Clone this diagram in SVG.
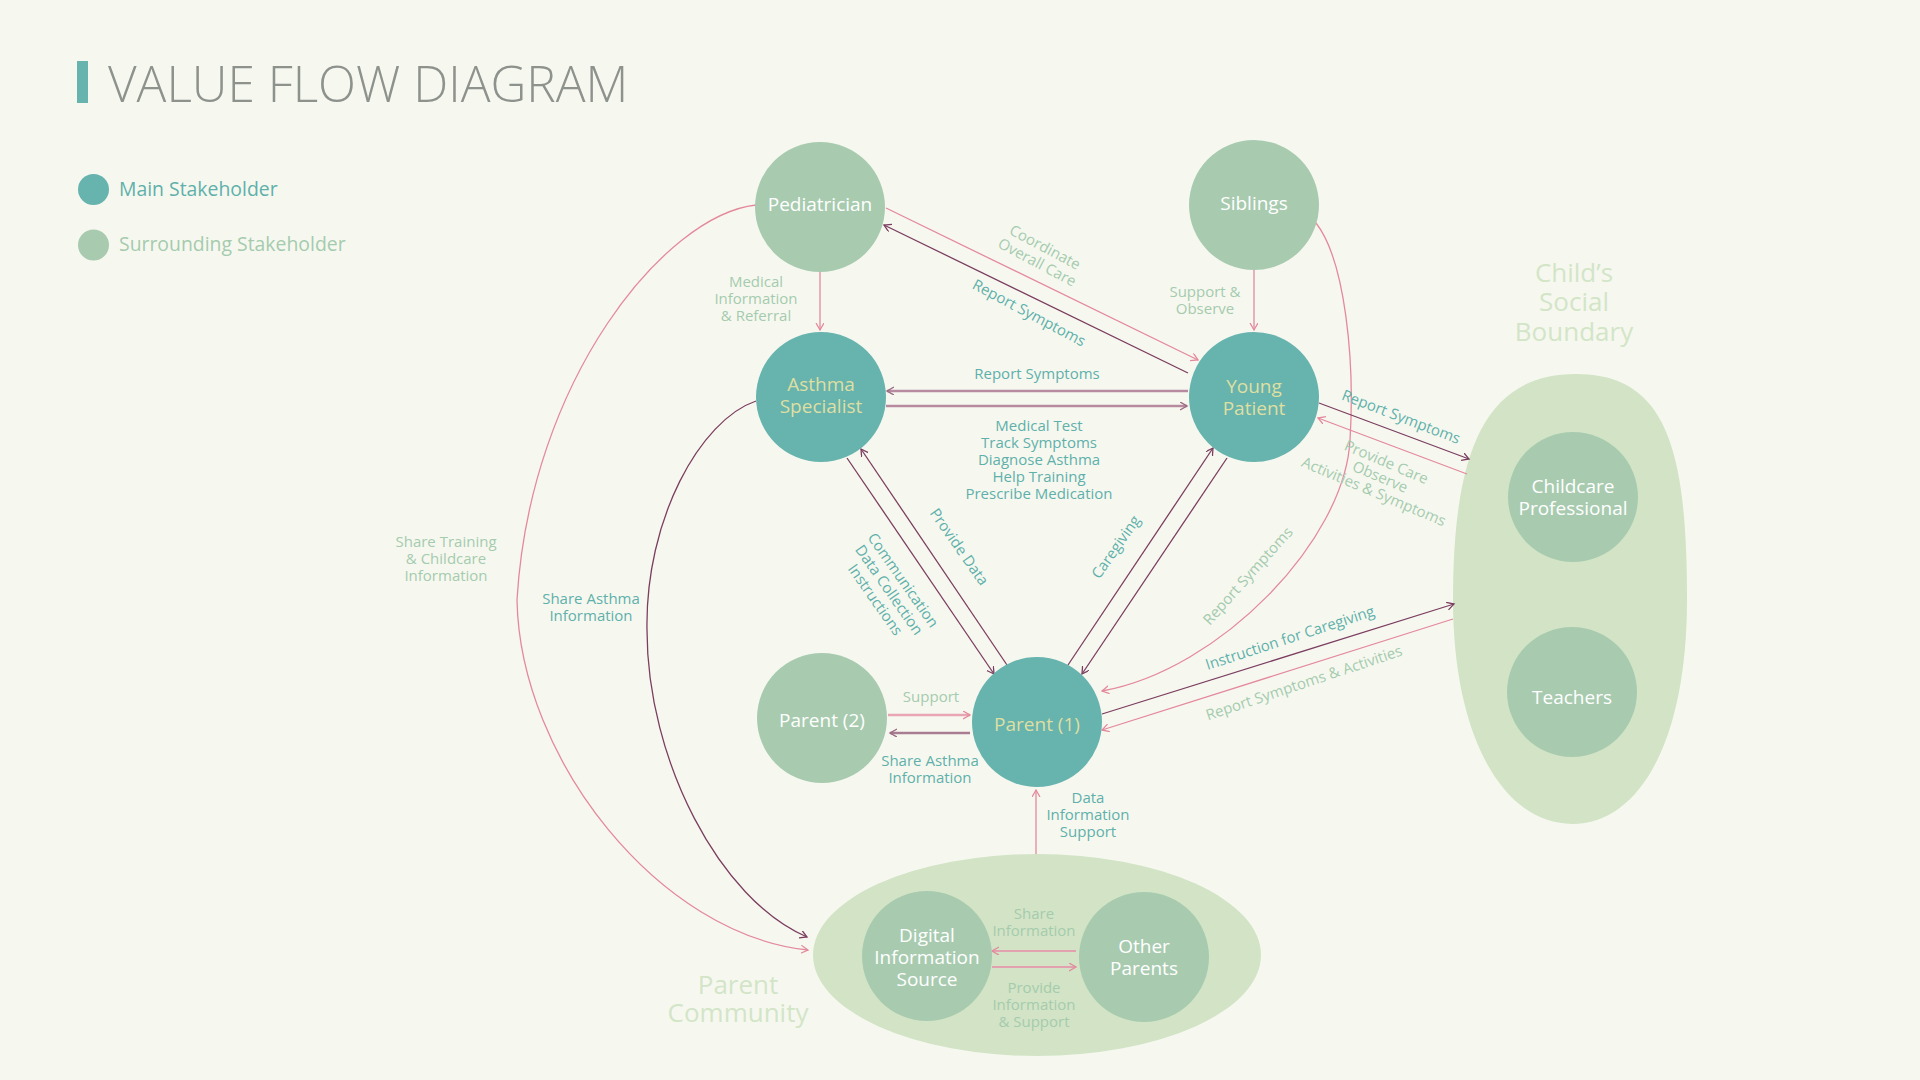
<svg xmlns="http://www.w3.org/2000/svg" width="1920" height="1080" viewBox="0 0 1920 1080">
<style>
text{font-family:"Open Sans","Noto Sans","Liberation Sans",sans-serif;}
.title{font-size:49.6px;font-weight:300;fill:#8e928c;}
.leg{font-size:19.4px;font-weight:500;}
.sec{font-size:26px;font-weight:500;fill:#d3e5c7;text-anchor:middle;}
.nl{font-size:19px;font-weight:500;text-anchor:middle;}
.nw{fill:#ffffff;}
.ny{fill:#dfdfa2;}
.lb{font-size:15px;font-weight:500;text-anchor:middle;}
.lt{fill:#5fb0aa;}
.lg{fill:#a5cbae;}
.main{fill:#67b3ae;}
.sur{fill:#a8cbb0;}
.bnd{fill:#d2e4c5;}
.pk{fill:none;stroke:#e4899c;stroke-width:1.3;marker-end:url(#ap);}
.pl{fill:none;stroke:#7c3e60;stroke-width:1.3;marker-end:url(#al);}
.mv{fill:none;stroke:#b78a9f;stroke-width:2.6;marker-end:url(#am);}
.pk2{fill:none;stroke:#e9a6b2;stroke-width:2.6;marker-end:url(#ap);}
.pk3{fill:none;stroke:#e2a1ae;stroke-width:2;marker-end:url(#ap);}
</style>
<defs>
<marker id="ap" markerUnits="userSpaceOnUse" markerWidth="10" markerHeight="10" refX="7" refY="4" orient="auto"><path d="M0,0 L7,4 L0,8" fill="none" stroke="#e4899c" stroke-width="1.3"/></marker>
<marker id="al" markerUnits="userSpaceOnUse" markerWidth="10" markerHeight="10" refX="7" refY="4" orient="auto"><path d="M0,0 L7,4 L0,8" fill="none" stroke="#7c3e60" stroke-width="1.3"/></marker>
<marker id="am" markerUnits="userSpaceOnUse" markerWidth="10" markerHeight="10" refX="7" refY="4" orient="auto"><path d="M0,0 L7,4 L0,8" fill="none" stroke="#9a6a82" stroke-width="1.4"/></marker>
</defs>
<rect x="0" y="0" width="1920" height="1080" fill="#f6f8f0"/>

<g id="title">
<rect x="77" y="61" width="11" height="42" fill="#67b3ae"/>
<text class="title" x="108" y="102">VALUE FLOW DIAGRAM</text>
</g>
<g id="legend">
<circle cx="93.5" cy="189.5" r="15.5" class="main"/>
<text class="leg" x="119" y="196" fill="#5fb0aa">Main Stakeholder</text>
<circle cx="93.5" cy="245" r="15.5" class="sur"/>
<text class="leg" x="119" y="251" fill="#a5cbae">Surrounding Stakeholder</text>
</g>

<g id="child-social-boundary">
<path class="bnd" d="M1576,374 C1667,374 1687,450 1687,600 C1687,740 1640,824 1572,824 C1505,824 1453,740 1453,600 C1453,450 1485,374 1576,374 Z"/>
<text class="sec"><tspan x="1574" y="282">Child’s</tspan><tspan x="1574" y="311">Social</tspan><tspan x="1574" y="341">Boundary</tspan></text>
</g>
<g id="parent-community">
<ellipse class="bnd" cx="1037" cy="955" rx="224" ry="101"/>
<text class="sec"><tspan x="738" y="994">Parent</tspan><tspan x="738" y="1022">Community</tspan></text>
</g>

<g id="connectors">
<path class="pk" d="M820,272 L820,330"/>
<path class="pk" d="M886,208 L1198,360"/>
<path class="pk" d="M1254,270 L1254,330"/>
<path class="pk" d="M1316,223 C1345,260 1355,360 1350,440 C1345,540 1220,670 1102,691"/>
<path class="pk" d="M1467,474 L1318,418"/>
<path class="pk" d="M1453,619 L1102,730"/>
<path class="pk" d="M756,205 C665,215 530,380 517,600 C520,760 660,935 808,950"/>
<path class="pk" d="M1036,854 L1036,790"/>
<path class="pk3" d="M1076,951 L992,951"/>
<path class="pk3" d="M992,967 L1076,967"/>
<path class="pk2" d="M888,715 L970,715"/>
<path class="pl" d="M1188,373 L884,225"/>
<path class="pl" d="M847,458 L994,674"/>
<path class="pl" d="M1007,665 L861,449"/>
<path class="pl" d="M1068,665 L1213,448"/>
<path class="pl" d="M1227,458 L1082,674"/>
<path class="pl" d="M1319,403 L1469,459"/>
<path class="pl" d="M1102,714 L1454,604"/>
<path class="pl" d="M756,401 C700,420 645,520 647,630 C647,760 720,900 807,937"/>
<path class="mv" d="M1188,391 L887,391"/>
<path class="mv" d="M886,406 L1187,406"/>
<path class="mv" d="M970,733 L890,733" style="stroke:#a97c91"/>

<text class="lb lg"><tspan x="756" y="287">Medical</tspan><tspan x="756" y="304">Information</tspan><tspan x="756" y="321">&amp; Referral</tspan></text>
<text class="lb lg"><tspan x="1205" y="297">Support &amp;</tspan><tspan x="1205" y="314">Observe</tspan></text>
<text class="lb lg" transform="translate(1041,255) rotate(28)"><tspan x="0" y="-3.5">Coordinate</tspan><tspan x="0" y="13.5">Overall Care</tspan></text>
<text class="lb lt" transform="translate(1029,313) rotate(28)" y="5">Report Symptoms</text>
<text class="lb lt" x="1037" y="379">Report Symptoms</text>
<text class="lb lt"><tspan x="1039" y="431">Medical Test</tspan><tspan x="1039" y="448">Track Symptoms</tspan><tspan x="1039" y="465">Diagnose Asthma</tspan><tspan x="1039" y="482">Help Training</tspan><tspan x="1039" y="499">Prescribe Medication</tspan></text>
<text class="lb lt" transform="translate(959,547) rotate(55)" y="5">Provide Data</text>
<text class="lb lt" transform="translate(889,590) rotate(55)"><tspan x="0" y="-12">Communication</tspan><tspan x="0" y="5">Data Collection</tspan><tspan x="0" y="22">Instructions</tspan></text>
<text class="lb lt" transform="translate(1116,547) rotate(-55)" y="5">Caregiving</text>
<text class="lb lt" transform="translate(1401,417) rotate(21)" y="5">Report Symptoms</text>
<text class="lb lg" transform="translate(1380,477) rotate(23)"><tspan x="0" y="-11">Provide Care</tspan><tspan x="0" y="5">Observe</tspan><tspan x="0" y="21">Activities &amp; Symptoms</tspan></text>
<text class="lb lg" transform="translate(1248,576) rotate(-48)" y="5">Report Symptoms</text>
<text class="lb lt" transform="translate(1290,638) rotate(-18)" y="5">Instruction for Caregiving</text>
<text class="lb lg" transform="translate(1304,683) rotate(-18.5)" y="5">Report Symptoms &amp; Activities</text>
<text class="lb lg"><tspan x="446" y="547">Share Training</tspan><tspan x="446" y="564">&amp; Childcare</tspan><tspan x="446" y="581">Information</tspan></text>
<text class="lb lt"><tspan x="591" y="604">Share Asthma</tspan><tspan x="591" y="621">Information</tspan></text>
<text class="lb lg" x="931" y="702">Support</text>
<text class="lb lt"><tspan x="930" y="766">Share Asthma</tspan><tspan x="930" y="783">Information</tspan></text>
<text class="lb lt"><tspan x="1088" y="803">Data</tspan><tspan x="1088" y="820">Information</tspan><tspan x="1088" y="837">Support</tspan></text>
<text class="lb lg"><tspan x="1034" y="919">Share</tspan><tspan x="1034" y="936">Information</tspan></text>
<text class="lb lg"><tspan x="1034" y="993">Provide</tspan><tspan x="1034" y="1010">Information</tspan><tspan x="1034" y="1027">&amp; Support</tspan></text>
</g>

<g id="pediatrician"><circle cx="820" cy="207" r="65" class="sur"/><text class="nl nw" x="820" y="211">Pediatrician</text></g>
<g id="siblings"><circle cx="1254" cy="205" r="65" class="sur"/><text class="nl nw" x="1254" y="210">Siblings</text></g>
<g id="asthma-specialist"><circle cx="821" cy="397" r="65" class="main"/><text class="nl ny"><tspan x="821" y="391">Asthma</tspan><tspan x="821" y="413">Specialist</tspan></text></g>
<g id="young-patient"><circle cx="1254" cy="397" r="65" class="main"/><text class="nl ny"><tspan x="1254" y="393">Young</tspan><tspan x="1254" y="415">Patient</tspan></text></g>
<g id="parent-2"><circle cx="822" cy="718" r="65" class="sur"/><text class="nl nw" x="822" y="727">Parent (2)</text></g>
<g id="parent-1"><circle cx="1037" cy="722" r="65" class="main"/><text class="nl ny" x="1037" y="731">Parent (1)</text></g>
<g id="childcare-professional"><circle cx="1573" cy="497" r="65" class="sur"/><text class="nl nw"><tspan x="1573" y="493">Childcare</tspan><tspan x="1573" y="515">Professional</tspan></text></g>
<g id="teachers"><circle cx="1572" cy="692" r="65" class="sur"/><text class="nl nw" x="1572" y="704">Teachers</text></g>
<g id="digital-information-source"><circle cx="927" cy="956" r="65" class="sur"/><text class="nl nw"><tspan x="927" y="942">Digital</tspan><tspan x="927" y="964">Information</tspan><tspan x="927" y="986">Source</tspan></text></g>
<g id="other-parents"><circle cx="1144" cy="957" r="65" class="sur"/><text class="nl nw"><tspan x="1144" y="953">Other</tspan><tspan x="1144" y="975">Parents</tspan></text></g>
</svg>
